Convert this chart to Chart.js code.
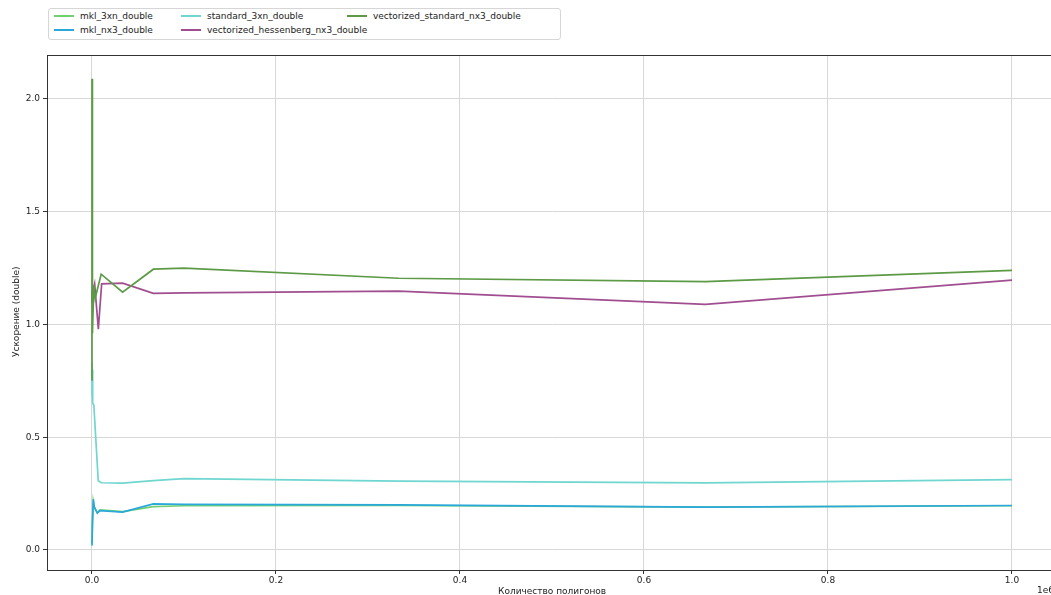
<!DOCTYPE html>
<html>
<head>
<meta charset="utf-8">
<script src="https://cdn.jsdelivr.net/npm/chart.js@4"></script>
<style>
  html, body { margin: 0; padding: 0; background: #fff; overflow: hidden; width: 1051px; height: 595px; }
  #wrap { position: relative; width: 1051px; height: 595px; overflow: hidden; }
  canvas { position: absolute; left: 0; top: 0; }
  .txt { position: absolute; font-family: "DejaVu Sans", sans-serif; font-size: 9px; color: #222; white-space: nowrap; }
  #legend { position: absolute; left: 48px; top: 8px; width: 511px; height: 30px; border: 1px solid #d6d6d6; border-radius: 3px; background: #fff; }
  .item { position: absolute; font-family: "DejaVu Sans", sans-serif; font-size: 9px; color: #222; white-space: nowrap; line-height: 11px; }
  .sw { display: inline-block; width: 20px; height: 2px; vertical-align: middle; margin-right: 6px; position: relative; top: -1px; }
</style>
</head>
<body>
<div id="wrap">
  <canvas id="c" width="1059" height="595"></canvas>
  <div id="legend"></div>
  <div class="txt" id="ylab" style="left:11px; top:305px; transform: rotate(-90deg); transform-origin: 0 0;"></div>
  <div class="txt" id="xlab" style="top:586px;"></div>
  <div class="txt" style="left:1037px; top:585px;">1e6</div>
</div>
<script>
// series names and colours
var names = ['mkl_3xn_double', 'mkl_nx3_double', 'standard_3xn_double',
             'vectorized_hessenberg_nx3_double', 'vectorized_standard_nx3_double'];
var colors = ['#72d072', '#2aa8dc', '#6fd6d0', '#a04e90', '#5c9a46'];

// x values in millions of polygons
var mkl3xnX = [0.00001, 0.0005, 0.0014, 0.0025, 0.0058, 0.0087, 0.0333, 0.0667, 0.1, 0.3333, 0.6667, 1.0];
var mkl3xnY = [0.03, 0.12, 0.215, 0.19, 0.165, 0.178, 0.170, 0.192, 0.196, 0.197, 0.190, 0.196];

var mklnx3X = [0.00001, 0.0005, 0.0014, 0.0025, 0.0058, 0.0087, 0.0333, 0.0667, 0.1, 0.3333, 0.6667, 1.0];
var mklnx3Y = [0.02, 0.12, 0.225, 0.19, 0.163, 0.174, 0.168, 0.204, 0.202, 0.200, 0.190, 0.197];

var std3xnX = [0.00001, 0.0001, 0.0005, 0.001, 0.002, 0.0068, 0.01, 0.0333, 0.0667, 0.1, 0.3333, 0.6667, 1.0];
var std3xnY = [0.83, 0.70, 0.80, 0.65, 0.643, 0.307, 0.298, 0.296, 0.307, 0.316, 0.305, 0.297, 0.312];

var hessX = [0.00001, 0.0001, 0.0005, 0.001, 0.0029, 0.0069, 0.0105, 0.0333, 0.0667, 0.1, 0.3333, 0.6667, 1.0];
var hessY = [1.15, 1.10, 1.17, 1.14, 1.18, 0.979, 1.18, 1.183, 1.138, 1.14, 1.148, 1.089, 1.197];

var vstdX = [0.00001, 0.00003, 0.0001, 0.0002, 0.0004, 0.0007, 0.001, 0.002, 0.0035, 0.01, 0.0333, 0.0667, 0.1, 0.3333, 0.6667, 1.0];
var vstdY = [0.75, 2.09, 1.02, 1.56, 1.01, 1.345, 0.96, 1.175, 1.117, 1.223, 1.143, 1.245, 1.25, 1.205, 1.19, 1.24];

var xTicks = [0, 0.2, 0.4, 0.6, 0.8, 1.0];
var yTicks = [0, 0.5, 1.0, 1.5, 2.0];

var xTitle = 'Количество полигонов';
var yTitle = 'Ускорение (double)';

function pts(xs, ys) {
  var out = [];
  for (var i = 0; i < xs.length; i++) out.push({x: xs[i], y: ys[i]});
  return out;
}

var series = [pts(mkl3xnX, mkl3xnY), pts(mklnx3X, mklnx3Y), pts(std3xnX, std3xnY),
              pts(hessX, hessY), pts(vstdX, vstdY)];

var datasets = [];
for (var i = 0; i < names.length; i++) {
  datasets.push({
    label: names[i],
    data: series[i],
    borderColor: colors[i],
    borderWidth: 1.7,
    pointRadius: 0,
    tension: 0,
    fill: false,
    order: names.length - i
  });
}

// box round the plot area
var frame = {
  id: 'frame',
  afterDraw: function(chart) {
    var a = chart.chartArea, ctx = chart.ctx;
    ctx.save();
    ctx.strokeStyle = '#333';
    ctx.lineWidth = 1;
    ctx.strokeRect(a.left + 0.5, a.top + 0.5, a.right - a.left - 1, a.bottom - a.top);
    ctx.restore();
  }
};

var tickFont = {family: 'DejaVu Sans', size: 9};

new Chart(document.getElementById('c'), {
  type: 'line',
  data: {datasets: datasets},
  plugins: [frame],
  options: {
    responsive: false,
    animation: false,
    layout: {padding: {top: 55, left: 0, right: 1, bottom: 0}},
    plugins: {legend: {display: false}, tooltip: {enabled: false}},
    scales: {
      x: {
        type: 'linear',
        min: -0.0489,
        max: 1.05,
        afterFit: function(s) { s.height = 25; },
        afterBuildTicks: function(s) { s.ticks = xTicks.map(function(v) { return {value: v}; }); },
        ticks: {font: tickFont, color: '#222', padding: 1, maxRotation: 0,
                callback: function(v) { return v.toFixed(1); }},
        grid: {color: '#d8d8d8', lineWidth: 1, tickColor: '#333', tickLength: 4},
        border: {display: false}
      },
      y: {
        min: -0.089,
        max: 2.195,
        afterFit: function(s) { s.width = 47; },
        afterBuildTicks: function(s) { s.ticks = yTicks.map(function(v) { return {value: v}; }); },
        ticks: {font: tickFont, color: '#222', padding: 3,
                callback: function(v) { return v.toFixed(1); }},
        grid: {color: '#d8d8d8', lineWidth: 1, tickColor: '#333', tickLength: 4},
        border: {display: false}
      }
    }
  }
});

// legend, three columns filled top to bottom
var legend = document.getElementById('legend');
var colLeft = [5, 132, 298];
var rowTop = [2, 16];
for (var k = 0; k < names.length; k++) {
  var col = Math.floor(k / 2), row = k % 2;
  var it = document.createElement('div');
  it.className = 'item';
  it.style.left = colLeft[col] + 'px';
  it.style.top = rowTop[row] + 'px';
  it.innerHTML = '<span class="sw" style="background:' + colors[k] + '"></span>' + names[k];
  legend.appendChild(it);
}

document.getElementById('ylab').textContent = yTitle;
var xl = document.getElementById('xlab');
xl.textContent = xTitle;
xl.style.left = (552 - xl.offsetWidth / 2) + 'px';
var yl = document.getElementById('ylab');
yl.style.top = (312 + yl.offsetWidth / 2) + 'px';
</script>
</body>
</html>
